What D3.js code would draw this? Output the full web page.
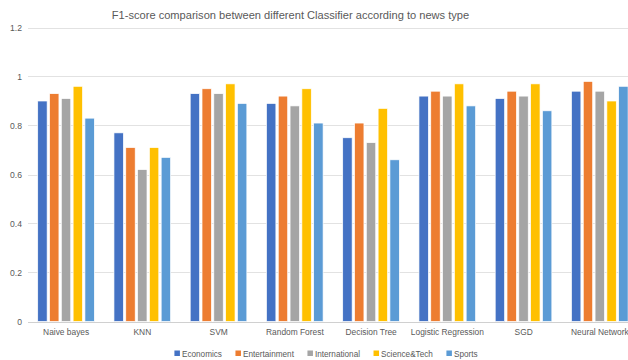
<!DOCTYPE html>
<html>
<head>
<meta charset="utf-8">
<script src="https://cdn.jsdelivr.net/npm/d3@7"></script>
<style>
  html, body { margin: 0; padding: 0; background: #fff; }
  svg { display: block; font-family: "Liberation Sans", "DejaVu Sans", sans-serif; }
</style>
</head>
<body>
<svg id="chart" width="628" height="360"></svg>
<script>
// Classifiers along the x axis
const categories = ["Naive bayes", "KNN", "SVM", "Random Forest", "Decision Tree",
                    "Logistic Regression", "SGD", "Neural Network"];

// News types (series)
const seriesNames = ["Economics", "Entertainment", "International", "Science&Tech", "Sports"];
const seriesColors = ["#4472C4", "#ED7D31", "#A5A5A5", "#FFC000", "#5B9BD5"];

// F1-score per classifier, one array per news type
const economics     = [0.90, 0.77, 0.93, 0.89, 0.75, 0.92, 0.91, 0.94];
const entertainment = [0.93, 0.71, 0.95, 0.92, 0.81, 0.94, 0.94, 0.98];
const international = [0.91, 0.62, 0.93, 0.88, 0.73, 0.92, 0.92, 0.94];
const scienceTech   = [0.96, 0.71, 0.97, 0.95, 0.87, 0.97, 0.97, 0.90];
const sports        = [0.83, 0.67, 0.89, 0.81, 0.66, 0.88, 0.86, 0.96];

const yTicks = [0, 0.2, 0.4, 0.6, 0.8, 1, 1.2];
const title = "F1-score comparison between different Classifier according to news type";

const seriesValues = [economics, entertainment, international, scienceTech, sports];

const svg = d3.select("#chart");
const W = 628, H = 360;
const plot = { left: 28, right: 638, top: 27.5, bottom: 321.5 };

const x0 = d3.scaleBand().domain(categories).range([plot.left, plot.right]).padding(0);
const x1 = d3.scaleBand().domain(seriesNames)
  .range([9.7, x0.bandwidth() - 9.9]).paddingInner(0.2).paddingOuter(0);
const y = d3.scaleLinear().domain([0, 1.2]).range([plot.bottom, plot.top]);
const color = d3.scaleOrdinal().domain(seriesNames).range(seriesColors);

// Title
svg.append("text")
  .attr("x", 290.5).attr("y", 18.5)
  .attr("text-anchor", "middle")
  .attr("fill", "#595959")
  .attr("font-size", 11.1)
  .text(title);

// Horizontal gridlines
svg.append("g").selectAll("line").data(yTicks).join("line")
  .attr("x1", plot.left).attr("x2", W)
  .attr("y1", d => Math.round(y(d)) + 0.5).attr("y2", d => Math.round(y(d)) + 0.5)
  .attr("stroke", d => d === 0 ? "#d0d0d0" : "#e2e2e2")
  .attr("stroke-width", 1);

// Y axis labels
const yAxis = d3.axisLeft(y).tickValues(yTicks).tickSize(0).tickPadding(0)
  .tickFormat(d3.format("~g"));
svg.append("g")
  .attr("transform", `translate(${plot.left - 6},0)`)
  .call(yAxis)
  .call(g => g.select(".domain").remove())
  .call(g => g.selectAll("text")
    .attr("fill", "#595959")
    .attr("font-size", 8.6)
    .attr("font-family", "Liberation Sans, sans-serif"));

// Bars
const groups = svg.append("g").selectAll("g").data(categories).join("g")
  .attr("transform", d => `translate(${x0(d)},0)`);

groups.selectAll("rect")
  .data((c, i) => seriesNames.map((s, j) => ({ series: s, value: seriesValues[j][i] })))
  .join("rect")
  .attr("x", d => x1(d.series))
  .attr("width", x1.bandwidth())
  .attr("y", d => y(d.value))
  .attr("height", d => y(0) - y(d.value))
  .attr("fill", d => color(d.series))
  .attr("stroke", "#ffffff")
  .attr("stroke-width", 0.7);

// X axis category labels
const xAxis = d3.axisBottom(x0).tickSize(0).tickPadding(0);
svg.append("g")
  .attr("transform", `translate(0,${plot.bottom + 8})`)
  .call(xAxis)
  .call(g => g.select(".domain").remove())
  .call(g => g.selectAll("text")
    .attr("fill", "#595959")
    .attr("font-size", 8.4)
    .attr("font-family", "Liberation Sans, sans-serif"));

// Legend
const legend = svg.append("g").attr("transform", "translate(0,353.5)");
const items = legend.selectAll("g").data(seriesNames).join("g");
items.append("rect")
  .attr("width", 5.5).attr("height", 5.5)
  .attr("y", -3)
  .attr("fill", d => color(d));
items.append("text")
  .attr("x", 7.5).attr("y", 3)
  .attr("fill", "#595959")
  .attr("font-size", 8.2)
  .text(d => d);
const gap = 13.5;
const widths = [];
items.each(function () {
  widths.push(7.5 + this.querySelector("text").getComputedTextLength());
});
const total = d3.sum(widths) + gap * (widths.length - 1);
let start = 326 - total / 2;
items.attr("transform", (d, i) => {
  const t = `translate(${start},0)`;
  start += widths[i] + gap;
  return t;
});
</script>
</body>
</html>
